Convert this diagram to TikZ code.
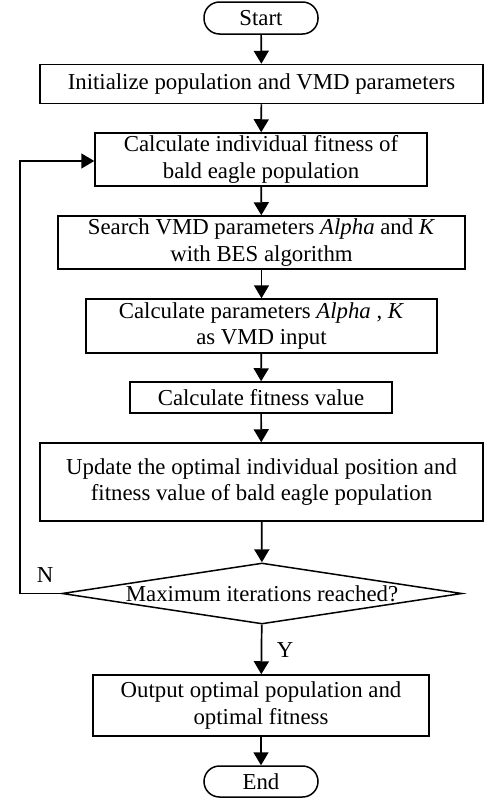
\documentclass[tikz,border=0pt]{standalone}
\usepackage{fontspec}
\setmainfont{Liberation Serif}
\usetikzlibrary{shapes.geometric,arrows.meta}
\begin{document}
\begin{tikzpicture}[x=1pt,y=-1pt,
  every node/.style={font=\fontsize{22.8}{26.5}\selectfont, align=center, inner sep=0pt},
  procbox/.style={draw, line width=1.5pt, rectangle},
  termbox/.style={draw, line width=1.5pt, rectangle, rounded corners=15.5pt},
  decbox/.style={draw, line width=1.5pt, diamond, aspect=6.56},
  flow/.style={line width=1.7pt, -{Triangle[width=15pt,length=13pt]}},
  lbl/.style={font=\fontsize{22.8}{26.5}\selectfont}]
\useasboundingbox (0,0) rectangle (484,798);
\node[termbox, minimum width=114pt, minimum height=32pt] (start) at (261,18) {Start};
\node[procbox, minimum width=443pt, minimum height=39pt] (init) at (261.5,84) {Initialize population and VMD parameters};
\node[procbox, minimum width=332pt, minimum height=53pt] (calc) at (261,159.5) {Calculate individual fitness of\\bald eagle population};
\node[procbox, minimum width=407pt, minimum height=53pt] (search) at (261.5,242.5) {Search VMD parameters \textit{Alpha} and \textit{K}\\with BES algorithm};
\node[procbox, minimum width=351pt, minimum height=54pt] (params) at (261.5,326) {Calculate parameters \textit{Alpha} , \textit{K}\\as VMD input};
\node[procbox, minimum width=262pt, minimum height=31pt] (fit) at (261,397.5) {Calculate fitness value};
\node[procbox, minimum width=443pt, minimum height=78pt] (upd) at (261.5,482) {Update the optimal individual position and\\fitness value of bald eagle population};
\node[decbox, minimum width=400pt, minimum height=61pt] (dec) at (262,593.5) {Maximum iterations reached?};
\node[procbox, minimum width=336pt, minimum height=61pt] (out) at (261,705.5) {Output optimal population and\\optimal fitness};
\node[termbox, minimum width=114pt, minimum height=31pt] (end) at (261,781.5) {End};
\coordinate (fbb) at (20,593.5);
\coordinate (fbt) at (20,161);
\node[lbl] (nlab) at (45,575) {N};
\node[lbl] (ylab) at (285,650) {Y};
\draw[flow] (start) -- (init);
\draw[flow] (init) -- (calc);
\draw[flow] (calc) -- (search);
\draw[flow] (search) -- (params);
\draw[flow] (params) -- (fit);
\draw[flow] (fit) -- (upd);
\draw[flow] (upd) -- (dec);
\draw[flow] (dec) -- (out);
\draw[flow] (out) -- (end);
\draw[flow] (dec.west) -- (fbb) -- (fbt) -- (calc.west |- fbt);
\end{tikzpicture}
\end{document}
